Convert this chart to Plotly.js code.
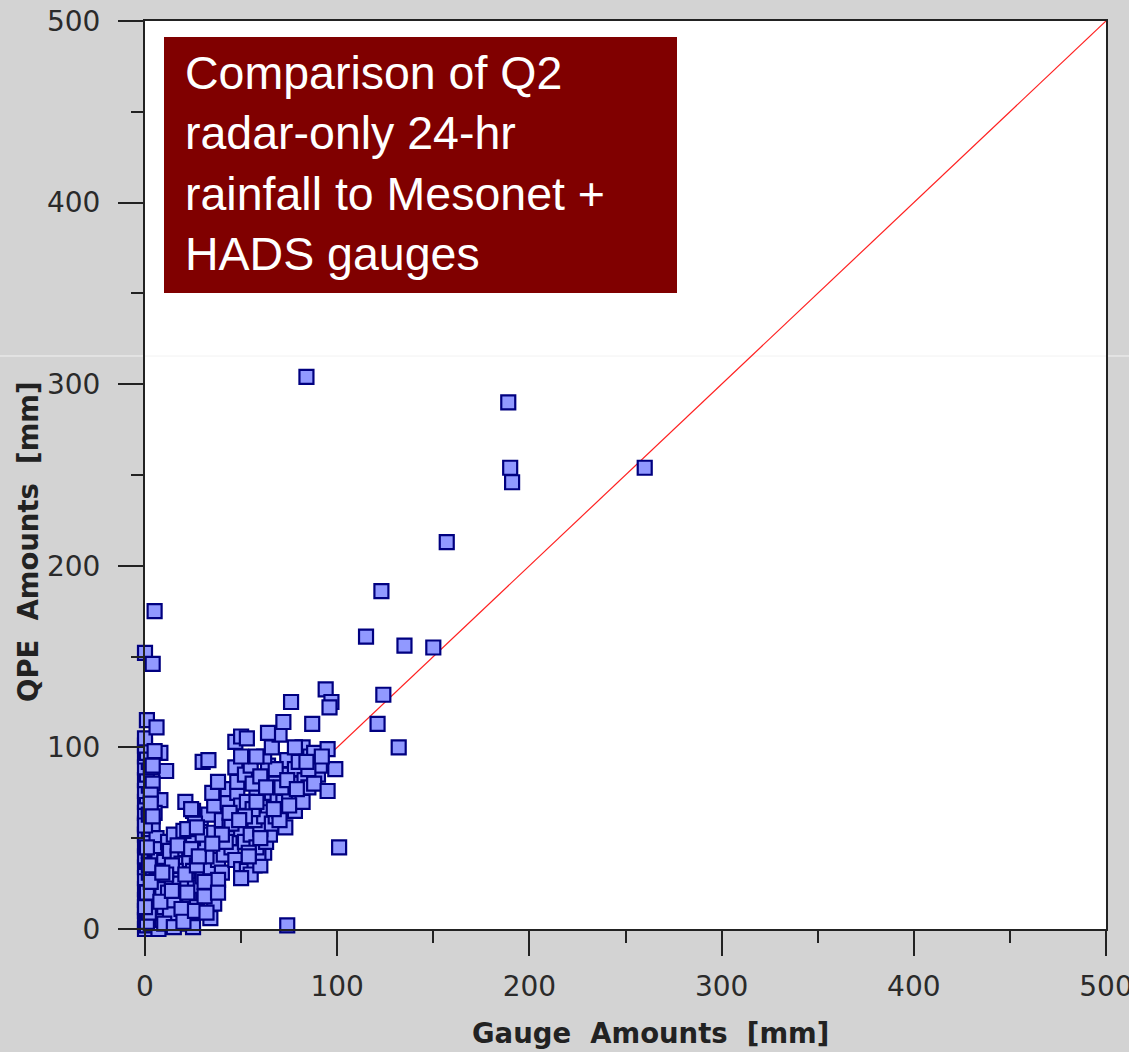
<!DOCTYPE html>
<html>
<head>
<meta charset="utf-8">
<script src="https://cdn.plot.ly/plotly-3.0.1.min.js"></script>
<style>html,body{margin:0;padding:0;background:#d3d3d3;}#chart{width:1129px;height:1052px;}</style>
</head>
<body>
<div id="chart"></div>
<script>
// Gauge amounts (x, mm) and QPE amounts (y, mm)
const gaugeMM = [
  0,1,0,2,0,1,0,2,0,1,0,2,0,1,0,2,0,1,0,2,0,1,0,2,0,1,0,2,0,1,0,2,0,1,0,0,1,0,4,5,
  6,8,11,8,5,4,6,5,7,4,6,8,5,7,4,3,7,9,10,9,10,3,4,3,5,
  12,15,13,17,21,19,23,16,25,14,18,22,26,29,12,16,19,23,27,15,20,17,13,24,25,34,36,34,30,34,38,32,28,25,30,36,20,41,40,38,11,14,21,27,31,22,
  21,29,25,33,36,40,44,47,43,35,43,38,30,33,47,47,50,53,48,50,26,22,
  45,48,44,50,52,55,47,50,53,57,55,60,62,59,50,58,63,65,60,57,62,66,68,70,64,60,58,66,69,72,75,73,78,80,82,76,71,74,64,68,78,83,80,82,86,88,90,85,88,91,95,99,95,101,74,48,52,55,56,60,62,66,70,64,72,76,87,94,97,96,53,56,52,45,42,40,54,60,70,75,68,58,50,85,78,92,
  1,2,0,1,3,2,1,0,2,3,8,11,14,17,19,24,28,31,35,38,44,49,54,58,63,67,71,74,79,84,10,15,20,26,32,9,24,27,4,4,
  84,189,190,191,260,157,123,115,135,150,124,121,132
];
const qpeMM = [
  0,2,5,7,10,13,16,19,22,25,28,31,34,37,40,43,46,49,52,55,58,61,64,67,70,73,76,79,82,85,89,92,95,97,101,105,115,152,146,175,
  111,97,87,71,64,57,50,44,38,33,27,22,16,11,6,3,0,5,12,22,37,89,80,74,98,
  48,52,43,40,44,36,38,32,32,27,25,27,24,23,20,18,18,16,12,14,9,3,8,6,1,6,14,23,29,34,38,40,46,50,52,53,54,41,31,27,32,35,30,35,18,20,
  70,61,65,63,68,60,57,64,70,75,77,81,92,93,89,103,106,105,75,68,58,55,
  45,50,50,55,48,52,38,33,32,35,30,35,42,42,28,45,48,52,55,60,62,58,62,65,68,72,77,75,73,70,75,56,65,72,70,80,85,93,90,88,88,82,92,100,95,97,85,78,80,90,99,88,76,45,2,81,85,90,80,84,95,100,107,108,114,125,113,132,125,122,70,66,62,58,48,52,42,50,60,68,80,95,95,88,100,95,
  4,9,12,20,26,35,45,57,63,69,15,30,21,46,11,44,40,26,47,20,64,60,40,70,78,66,78,82,77,92,3,1,4,10,9,31,66,56,62,90,
  304,290,254,246,254,213,186,161,156,155,129,113,100
];
const axisTicks = [0, 100, 200, 300, 400, 500];
const minorTicks = [50, 150, 250, 350, 450];
const oneToOne = [0, 500];
const titleLines = ["Comparison of Q2", "radar-only 24-hr", "rainfall to Mesonet +", "HADS gauges"];

const W = 1129, H = 1052;
const L = 145, R = 1106, T = 21, B = 929;
const pw = R - L, ph = B - T;
const px = v => (v - L) / pw;
const py = v => (B - v) / ph;

const traces = [
  {
    x: oneToOne, y: oneToOne, type: 'scatter', mode: 'lines',
    line: {color: '#ff2020', width: 1.2}, hoverinfo: 'skip', showlegend: false
  },
  {
    x: gaugeMM, y: qpeMM, type: 'scatter', mode: 'markers',
    cliponaxis: false, showlegend: false,
    marker: {symbol: 'square', size: 14, color: '#9199ff', line: {color: '#000080', width: 2.2}}
  }
];

const tickFont = {family: 'DejaVu Sans', size: 28, color: '#2a2a2a'};
const axisCommon = {
  range: [0, 500], autorange: false, showgrid: false, zeroline: false,
  showline: true, linecolor: '#222', linewidth: 2, mirror: true,
  ticks: 'outside', ticklen: 25, tickwidth: 2, tickcolor: '#222',
  tickvals: axisTicks, ticktext: axisTicks.map(String),
  tickfont: tickFont, ticklabeloverflow: 'allow',
  minor: {tickvals: minorTicks, ticks: 'outside', ticklen: 12, tickwidth: 2, tickcolor: '#222', showgrid: false}
};

const layout = {
  width: W, height: H,
  paper_bgcolor: '#d3d3d3', plot_bgcolor: '#ffffff',
  margin: {l: L, r: W - R, t: T, b: H - B, pad: 0},
  xaxis: Object.assign({}, axisCommon, {ticklabelstandoff: 6}),
  yaxis: Object.assign({}, axisCommon, {ticklabelstandoff: 12}),
  shapes: [
    {type: 'line', xref: 'paper', yref: 'paper', x0: px(0), x1: px(W), y0: py(356), y1: py(356),
     line: {color: '#f2f2f2', width: 1}, layer: 'below'},
    {type: 'rect', xref: 'paper', yref: 'paper', x0: px(164), x1: px(677), y0: py(293), y1: py(37),
     fillcolor: '#800000', line: {width: 0}, layer: 'above'}
  ],
  annotations: [
    {xref: 'paper', yref: 'paper', x: px(183), y: py(163), xanchor: 'left', yanchor: 'middle',
     align: 'left', showarrow: false, text: titleLines.join('<br>'),
     font: {family: 'Liberation Sans', size: 46.5, color: '#ffffff'}},
    {xref: 'paper', yref: 'paper', x: px(650), y: py(1033), xanchor: 'center', yanchor: 'middle',
     showarrow: false, text: 'Gauge\u00a0 Amounts\u00a0 [mm]',
     font: {family: 'DejaVu Sans', size: 27.5, color: '#222', weight: 'bold'}},
    {xref: 'paper', yref: 'paper', x: px(28), y: py(542), xanchor: 'center', yanchor: 'middle',
     showarrow: false, textangle: -90, text: 'QPE\u00a0 Amounts\u00a0 [mm]',
     font: {family: 'DejaVu Sans', size: 27.5, color: '#222', weight: 'bold'}}
  ]
};

Plotly.newPlot('chart', traces, layout, {displayModeBar: false, staticPlot: true});
</script>
</body>
</html>
